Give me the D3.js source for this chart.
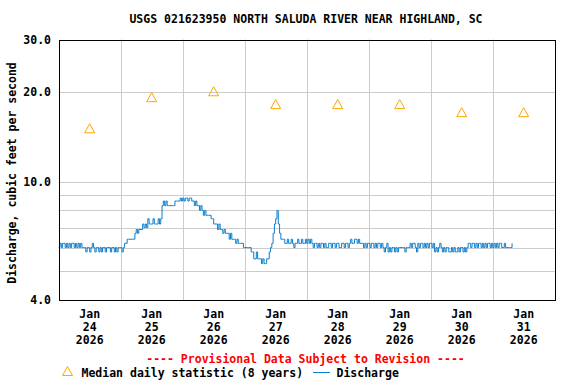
<!DOCTYPE html>
<html>
<head>
<meta charset="utf-8">
<script src="https://cdn.jsdelivr.net/npm/d3@7"></script>
<style>
  html, body { margin: 0; padding: 0; background: #fff; }
  svg { display: block; }
  text { font-family: "DejaVu Sans Mono", "Liberation Mono", monospace; font-weight: bold; font-size: 11.5px; }
</style>
</head>
<body>
<svg id="chart" width="576" height="384"></svg>
<script>
// ---------------- DATA ----------------
const title = "USGS 021623950 NORTH SALUDA RIVER NEAR HIGHLAND, SC";
const yAxisTitle = "Discharge, cubic feet per second";
const dayLabels = ["24", "25", "26", "27", "28", "29", "30", "31"];
const monthLabel = "Jan";
const yearLabel = "2026";
const yTickValues = [4, 10, 20, 30];
const yGridValues = [5, 6, 7, 8, 9, 10, 20];
// Median daily statistic (8 years), one per day (plotted at noon)
const medianValues = [15.1, 19.2, 20.1, 18.2, 18.2, 18.2, 17.1, 17.1];
// Discharge, cfs, every 30 minutes starting Jan 24 2026 00:00
const dischargeDay24 = [6.0,6.2,6.0,6.2,6.2,6.0,6.2,6.0,6.2,6.0,6.2,6.2,6.0,6.2,6.0,6.2,6.0,6.2,6.0,
  6.0,6.0,5.8,6.0,6.0,5.8,6.0, 6.2, 6.0,
  5.8,6.0,6.0,5.8,6.0,5.8,6.0,6.0,5.8,6.0,6.0,6.0,5.8,6.0,6.0,5.8,6.0,5.8,6.0,6.0];
const dischargeDay25 = [6.0,5.8,6.0, 6.2,6.2, 6.4,6.4,6.4,6.4,6.4,6.4, 6.7,6.9,6.7, 6.9,6.9,6.9,
  7.2,7.0,7.2,7.0, 7.5,7.2, 7.2,7.2,7.5,7.2,7.2,7.2, 7.5,7.2,7.5, 8.3, 8.6,8.3,8.6,
  8.3,8.3,8.3,8.3,8.3,8.3, 8.6,8.6,8.6, 8.6,8.8,8.6];
const dischargeDay26 = [8.8,8.6,8.8,8.8,8.6,8.8, 8.8,8.6,8.6,8.3,8.6, 8.3,8.3,8.0,8.3,
  8.0,7.7,8.0,7.7, 7.7,7.7,7.7, 7.5,7.5,7.2,7.2, 7.2,6.9,7.2,6.9, 6.9,6.7,6.9,6.7,6.7,
  6.7,6.4,6.7,6.4,6.4, 6.4,6.2,6.4,6.2,6.2,6.2,6.2, 6.0];
const dischargeDay27 = [6.0,6.0,6.0,6.0,6.0,5.8, 5.8,5.5,5.5,5.8,5.5,5.5, 5.5,5.3,5.5,5.3,5.3,5.5,
  5.5,5.8,6.0,6.2,6.7,7.2,7.5,8.0,7.2,6.7,6.4,6.4,
  6.4,6.2,6.2,6.4,6.2,6.2,6.4,6.2,6.0,6.2,6.2,6.4,6.2,6.2,6.4,6.2,6.2,6.4];
const dischargeDay28 = [6.2,6.4,6.2,6.4,6.2,
  6.0,6.2,6.2,6.0,6.2,6.0,6.2,6.2,6.0,6.2,6.0,6.0,6.2,6.2,6.0,6.2,6.2,6.0,6.2,6.2,6.0,6.0,6.2,6.2,6.0,6.2,6.2,6.0,
  6.2,6.4,6.2,6.2,6.4,6.4,6.2,6.4,6.2,6.2,6.2, 6.0,6.2,6.0,6.2];
const dischargeDay29 = [6.2,6.0,6.2,6.2,6.0,6.2,6.0,6.2,6.2,6.0,6.2,
  6.0,5.8,6.0,6.2,5.8,6.0,5.8,6.0,6.0,5.8,6.0,5.8,6.0,6.0,6.0,6.0,6.0,5.8,6.0,6.0,6.0,
  6.2,6.0,6.2,6.2,6.0,5.8,6.2,6.0,6.2,6.2,6.0,6.2,6.0,6.2,6.0,6.2];
const dischargeDay30 = [6.2,6.0,6.2,5.8,6.0,5.8,6.0,6.2,6.0,5.8,
  6.0,5.8,6.0,6.0,5.8,5.8,6.0,5.8,6.0,5.8,5.8,6.0,5.8,6.0,6.0,5.8,6.0,5.8,6.0,6.2,
  6.2,6.0,6.2,6.2,6.0,6.2,6.0,6.2,6.2,6.0,6.2,6.0,6.2,6.0,6.2,6.2,6.0,6.2];
const dischargeDay31 = [6.0,6.2,6.0,6.2,6.0,6.2,6.2,6.0,6.0,6.2,6.0,6.0,6.0,6.0,6.0,6.2];
const provisionalText = "---- Provisional Data Subject to Revision ----";
const legendMedian = "Median daily statistic (8 years)";
const legendDischarge = "Discharge";

// ---------------- CHART ----------------
const svg = d3.select("#chart");
const pLeft = 58.7, pRight = 554.7, pTop = 39.5, pBottom = 300;
const t0 = new Date(Date.UTC(2026, 0, 24));
const t1 = d3.utcDay.offset(t0, 8);
const x = d3.scaleUtc().domain([t0, t1]).range([pLeft, pRight]);
const y = d3.scaleLog().domain([4, 30]).range([pBottom, pTop]);

const orange = "#ffa500";
const blue = "#0a7fd0";
const grid = "#cccccc";

// gridlines
svg.append("g").selectAll("line").data(yGridValues).join("line")
  .attr("x1", pLeft).attr("x2", pRight)
  .attr("y1", d => Math.round(y(d)) + 0.5).attr("y2", d => Math.round(y(d)) + 0.5)
  .attr("stroke", grid).attr("stroke-width", 1);
const midnights = d3.utcDay.range(d3.utcDay.offset(t0, 1), t1);
svg.append("g").selectAll("line").data(midnights).join("line")
  .attr("x1", d => Math.round(x(d)) + 0.5).attr("x2", d => Math.round(x(d)) + 0.5)
  .attr("y1", pTop).attr("y2", pBottom)
  .attr("stroke", grid).attr("stroke-width", 1);

// discharge line
const discharge = [].concat(dischargeDay24, dischargeDay25, dischargeDay26, dischargeDay27,
  dischargeDay28, dischargeDay29, dischargeDay30, dischargeDay31)
  .map((v, i) => ({ t: d3.utcMinute.offset(t0, 30 * i), v }));
const line = d3.line().x(d => x(d.t)).y(d => y(d.v)).curve(d3.curveStepAfter);
svg.append("path").datum(discharge)
  .attr("d", line).attr("fill", "none").attr("stroke", blue).attr("stroke-width", 1);

// median triangles
const tri = (cx, cy) => `M${cx - 5},${cy + 4.5}L${cx},${cy - 4.5}L${cx + 5},${cy + 4.5}Z`;
svg.append("g").selectAll("path").data(medianValues).join("path")
  .attr("d", (d, i) => tri(x(d3.utcHour.offset(t0, 24 * i + 12)), y(d)))
  .attr("fill", "none").attr("stroke", orange).attr("stroke-width", 1);

// frame
svg.append("rect").attr("x", Math.round(pLeft) + 0.5).attr("y", Math.round(pTop) + 0.5)
  .attr("width", Math.round(pRight) - Math.round(pLeft)).attr("height", Math.round(pBottom) - Math.round(pTop))
  .attr("fill", "none").attr("stroke", "#000").attr("stroke-width", 1);

// y tick labels
svg.append("g").selectAll("text").data(yTickValues).join("text")
  .attr("x", 51).attr("y", d => y(d)).attr("dy", "0.35em")
  .attr("text-anchor", "end").text(d => d.toFixed(1));

// x tick labels
const xl = svg.append("g").selectAll("text").data(dayLabels).join("text")
  .attr("text-anchor", "middle")
  .attr("transform", (d, i) => `translate(${x(d3.utcHour.offset(t0, 24 * i + 12))},318)`);
xl.append("tspan").attr("x", 0).attr("y", 0).text(monthLabel);
xl.append("tspan").attr("x", 0).attr("y", 12.9).text(d => d);
xl.append("tspan").attr("x", 0).attr("y", 25.8).text(yearLabel);

// title
svg.append("text").attr("x", 306).attr("y", 23).attr("text-anchor", "middle").text(title);

// y axis title
svg.append("text").attr("transform", "translate(16,173) rotate(-90)")
  .attr("text-anchor", "middle").text(yAxisTitle);

// provisional
svg.append("text").attr("x", 305.5).attr("y", 363).attr("text-anchor", "middle")
  .attr("fill", "#ff0000").text(provisionalText);

// legend
svg.append("path").attr("d", tri(67.5, 371)).attr("fill", "none").attr("stroke", orange);
svg.append("text").attr("x", 81.5).attr("y", 377).text(legendMedian);
svg.append("line").attr("x1", 313).attr("x2", 330).attr("y1", 372.5).attr("y2", 372.5)
  .attr("stroke", blue).attr("stroke-width", 1);
svg.append("text").attr("x", 336.5).attr("y", 377).text(legendDischarge);
</script>
</body>
</html>
